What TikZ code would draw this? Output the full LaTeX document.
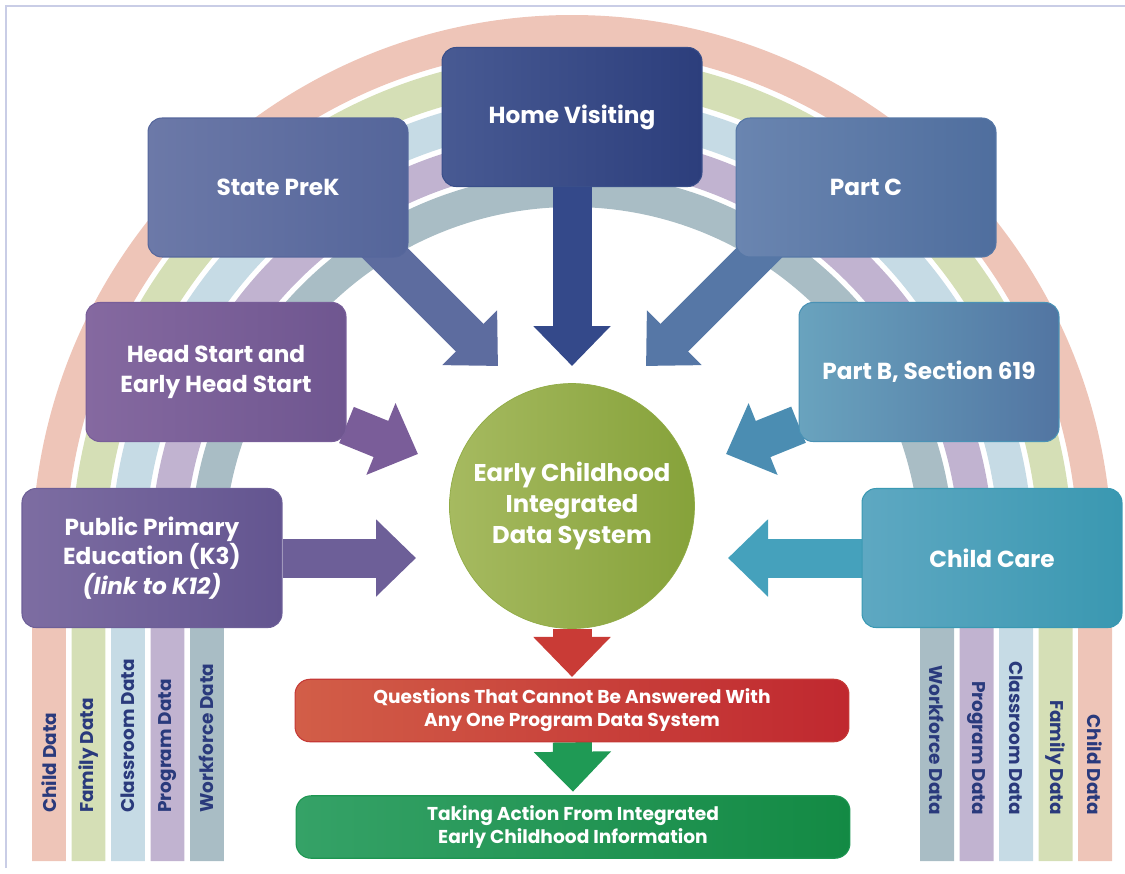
\documentclass[tikz,border=0pt]{standalone}
\usepackage{fontspec}
\setmainfont{Poppins}
\usetikzlibrary{
	arrows.meta,
	calc,
	positioning,
	backgrounds,
}
\definecolor{framecol}{HTML}{C9CDE6}
\definecolor{bandchild}{HTML}{EEC5B8}
\definecolor{bandfamily}{HTML}{D5DFB6}
\definecolor{bandclass}{HTML}{C6DBE5}
\definecolor{bandprog}{HTML}{C1B3D0}
\definecolor{bandwork}{HTML}{A9BDC5}
\definecolor{labelnavy}{HTML}{2A3A7C}
\definecolor{hvA}{HTML}{485A93}\definecolor{hvB}{HTML}{2C3E7C}\definecolor{hvD}{HTML}{3A4F8A}
\definecolor{pkA}{HTML}{6C79A8}\definecolor{pkB}{HTML}{54659A}\definecolor{pkD}{HTML}{56679C}
\definecolor{pcA}{HTML}{6A85B0}\definecolor{pcB}{HTML}{4F6E9E}\definecolor{pcD}{HTML}{5677A6}
\definecolor{hsA}{HTML}{8569A0}\definecolor{hsB}{HTML}{6F5690}\definecolor{hsD}{HTML}{785E99}
\definecolor{pbA}{HTML}{69A3BE}\definecolor{pbB}{HTML}{5275A2}\definecolor{pbD}{HTML}{4A92B5}
\definecolor{ppA}{HTML}{7D6DA2}\definecolor{ppB}{HTML}{635590}\definecolor{ppD}{HTML}{6D5F98}
\definecolor{ccA}{HTML}{5EA8C2}\definecolor{ccB}{HTML}{3A98B1}\definecolor{ccD}{HTML}{3A99B3}
\definecolor{ecA}{HTML}{A6BA60}\definecolor{ecB}{HTML}{86A23A}\definecolor{ecD}{HTML}{90AB45}
\definecolor{qA}{HTML}{D25E48}\definecolor{qB}{HTML}{C0282F}\definecolor{qD}{HTML}{C53A36}
\definecolor{actA}{HTML}{35A267}\definecolor{actB}{HTML}{138A44}\definecolor{actD}{HTML}{1D9651}
\definecolor{hvarrow}{HTML}{34498A}
\definecolor{pkarrow}{HTML}{5D6C9F}
\definecolor{pcarrow}{HTML}{5677A6}
\definecolor{hsarrow}{HTML}{7A5D99}
\definecolor{pbarrow}{HTML}{4B8DB2}
\definecolor{pparrow}{HTML}{6D5F98}
\definecolor{ccarrow}{HTML}{45A1BC}
\definecolor{redarrow}{HTML}{C93B36}
\definecolor{greenarrow}{HTML}{1F9A55}
\tikzset{prog box/.style={rounded corners=0.28cm,minimum width=5.2cm,minimum height=2.78cm,text=white,font=\fontsize{13.2}{17}\selectfont\bfseries,align=center,line width=0.6pt,}}
\tikzset{result box/.style={rounded corners=0.3cm,minimum width=11.08cm,minimum height=1.25cm,text=white,font=\fontsize{10.6}{13}\selectfont\bfseries,align=center,line width=0.6pt,}}
\tikzset{fat arrow/.style={line width=0.78cm,-{Triangle[width=1.5cm,length=0.8cm]},}}
\tikzset{band/.style={line width=0.68cm,}}
\tikzset{band label/.style={text=labelnavy,font=\fontsize{10.5}{12}\selectfont\bfseries,inner sep=0pt,}}

\begin{document}
\begin{tikzpicture}[x=0.02cm,y=-0.02cm]
\useasboundingbox (0,0) rectangle (1125,873);
\draw[framecol,line width=0.8pt] (6,868) -- (6,6) -- (1125,6);

% rainbow of data
\begin{scope}[on background layer]
\foreach \r/\c in {523/bandchild,483.5/bandfamily,444/bandclass,404.5/bandprog,365/bandwork}
  \draw[band,\c] (572-\r,861) -- (572-\r,555) arc[start angle=180,end angle=0,radius=\r*0.02cm] -- (572+\r,861);
\end{scope}

\foreach \x/\t [count=\i] in {49/Child Data,89/Family Data,128/Classroom Data,168/Program Data,206/Workforce Data}
  \node[band label,rotate=90,anchor=west] (l\i) at (\x,813) {\t};
\foreach \x/\t [count=\i] in {1095/Child Data,1055.5/Family Data,1016/Classroom Data,976.5/Program Data,937/Workforce Data}
  \node[band label,rotate=-90,anchor=east] (r\i) at (\x,815) {\t};

% programs
\node[prog box,left color=hvA,right color=hvB,draw=hvD] (hv) at (572,117) {Home Visiting};
\node[prog box,left color=pkA,right color=pkB,draw=pkD] (pk) at (278,187.5) {State PreK};
\node[prog box,left color=pcA,right color=pcB,draw=pcD] (pc) at (866,187.5) {Part C};
\node[prog box,left color=hsA,right color=hsB,draw=hsD] (hs) at (216,372) {Head Start and\\Early Head Start};
\node[prog box,left color=pbA,right color=pbB,draw=pbD] (pb) at (929,372) {Part B, Section 619};
\node[prog box,left color=ppA,right color=ppB,draw=ppD] (pp) at (152,558) {Public Primary\\Education (K3)\\\textit{(link to K12)}};
\node[prog box,left color=ccA,right color=ccB,draw=ccD] (cc) at (992,558) {Child Care};

\node[circle,minimum size=4.9cm,left color=ecA,right color=ecB,draw=ecD,text=white,align=center,
  font=\fontsize{13.8}{17.5}\selectfont\bfseries] (ec) at (572,506) {Early Childhood\\Integrated\\Data System};

\node[result box,left color=qA,right color=qB,draw=qD] (q) at (572,710.5) {Questions That Cannot Be Answered With\\Any One Program Data System};
\node[result box,left color=actA,right color=actB,draw=actD] (act) at (573,827) {Taking Action From Integrated\\Early Childhood Information};

% arrows
\begin{scope}[on background layer]
\coordinate (hv tip) at (572,366);
\coordinate (pk tip) at (498,366);
\coordinate (pc tip) at (646,366);
\coordinate (hs tip) at (418,454);
\coordinate (pb tip) at (726,454);
\coordinate (pp tip) at (416,558);
\coordinate (cc tip) at (728,558);

\draw[fat arrow,hvarrow] (hv) -- (hv tip);
\draw[fat arrow,pkarrow] ([shift={(-40,-21)}]pk.south east) -- (pk tip);
\draw[fat arrow,pcarrow] ([shift={(40,-21)}]pc.south west) -- (pc tip);
\draw[fat arrow,hsarrow] (hs) -- (hs tip);
\draw[fat arrow,pbarrow] (pb) -- (pb tip);
\draw[fat arrow,pparrow] (pp) -- (pp tip);
\draw[fat arrow,ccarrow] (cc) -- (cc tip);
\draw[fat arrow,redarrow,shorten >=1pt] (ec) -- (q.north);
\draw[fat arrow,greenarrow,shorten >=2pt] (q) -- (act.north);
\end{scope}
\end{tikzpicture}
\end{document}
